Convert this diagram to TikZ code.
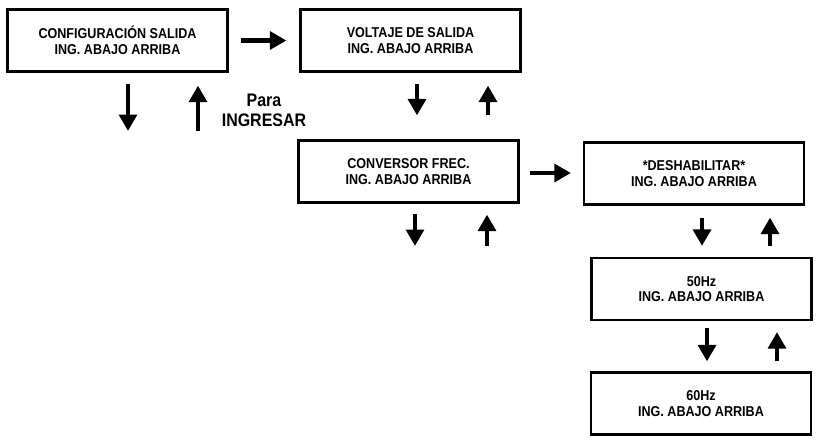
\documentclass[tikz,border=0pt]{standalone}
\usepackage{fontspec}
\setmainfont{Liberation Sans}[FakeStretch=0.88]
\usetikzlibrary{arrows.meta,calc}

\begin{document}
\begin{tikzpicture}[x=0.03cm, y=-0.03cm,
  every node/.style={font=\bfseries},
  menubox/.style={draw, line width=1.9pt, minimum width=6.6cm, minimum height=1.86cm,
    align=center, font=\fontsize{12.2}{13.5}\selectfont\bfseries},
  bigarr/.style={line width=4.2pt, -{Triangle[length=14pt,width=15pt]}}]
  \useasboundingbox (0,0) rectangle (821,440);

  % ---- Menús ----
  \node[menubox] (cfg)  at (117.5,40.5) {CONFIGURACIÓN SALIDA\\ING. ABAJO ARRIBA};
  \node[menubox] (volt) at (410.5,40.5) {VOLTAJE DE SALIDA\\ING. ABAJO ARRIBA};
  \node[menubox] (conv) at (408.5,171.5) {CONVERSOR FREC.\\ING. ABAJO ARRIBA};
  \node[menubox] (desh) at (694,173.5) {*DESHABILITAR*\\ING. ABAJO ARRIBA};
  \node[menubox] (f50)  at (701.5,289) {50Hz\\ING. ABAJO ARRIBA};
  \node[menubox] (f60)  at (701,403.5) {60Hz\\ING. ABAJO ARRIBA};

  \node[font=\fontsize{15.5}{17.5}\selectfont\bfseries, align=center] (para) at (264,110.5) {Para\\INGRESAR};

  % extremos libres
  \coordinate (cfgout) at (128,131);
  \coordinate (cfgin)  at (198,131);
  \coordinate (convout) at (415,246);
  \coordinate (convin)  at (487,246);

  % ---- Flechas horizontales ----
  \draw[bigarr] ($(cfg.east)+(12,0)$) -- ($(volt.west)+(-13,0)$);
  \draw[bigarr] ($(conv.east)+(10,1.5)$) -- ($(desh.west)+(-12,-0.5)$);

  % ---- Abajo / arriba ----
  \draw[bigarr] ($(cfg.south)+(10.5,11)$) -- (cfgout);
  \draw[bigarr] (cfgin) -- ($(cfg.south)+(80.5,13)$);

  \draw[bigarr] ($(volt.south)+(6.5,11)$) -- ($(conv.north)+(8.5,-24)$);
  \draw[bigarr] ($(conv.north)+(79.5,-24)$) -- ($(volt.south)+(77.5,13)$);

  \draw[bigarr] ($(conv.south)+(6.5,10)$) -- (convout);
  \draw[bigarr] (convin) -- ($(conv.south)+(78.5,11)$);

  \draw[bigarr] ($(desh.south)+(8,12)$) -- ($(f50.north)+(0.5,-11)$);
  \draw[bigarr] ($(f50.north)+(68.5,-11)$) -- ($(desh.south)+(76,12)$);

  \draw[bigarr] ($(f50.south)+(5.5,7)$) -- ($(f60.north)+(6,-10)$);
  \draw[bigarr] ($(f60.north)+(76,-10)$) -- ($(f50.south)+(75.5,11)$);
\end{tikzpicture}
\end{document}
